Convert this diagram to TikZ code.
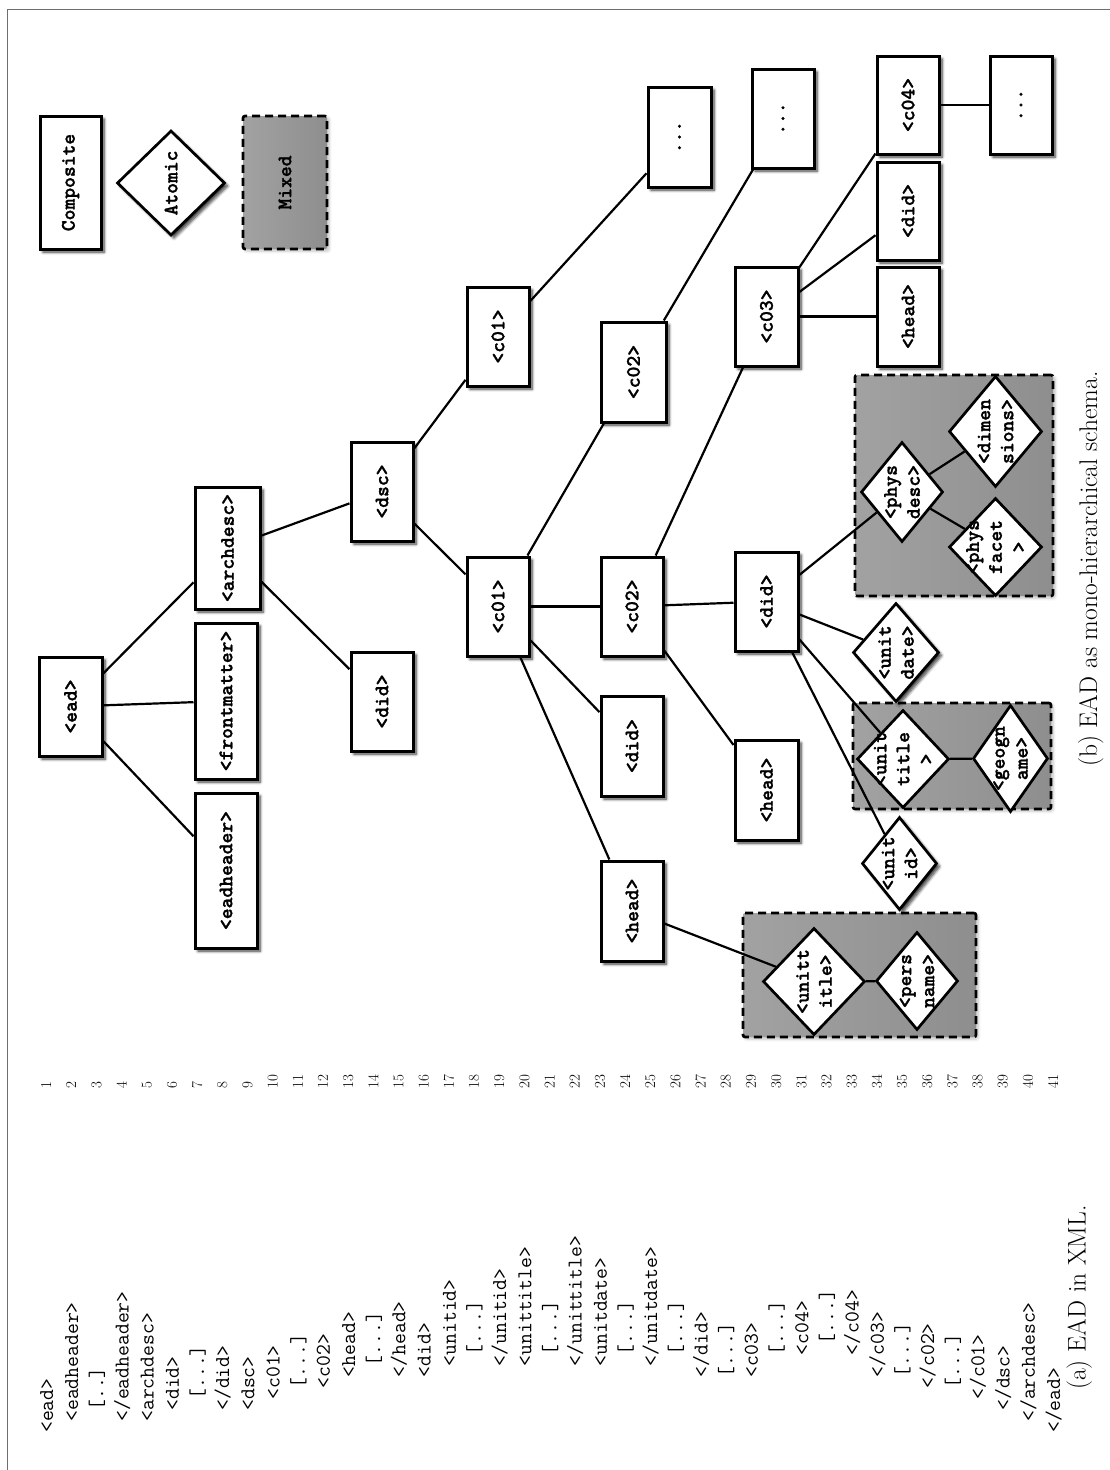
\documentclass[tikz,border=0pt]{standalone}
\usepackage{fontspec}
\usetikzlibrary{shapes.geometric,shadows.blur}
\newfontfamily\bxfam{lmmonolt10-bold.otf}[FakeBold=1.3]
\definecolor{mixL}{RGB}{162,162,162}
\definecolor{mixR}{RGB}{142,142,142}
\definecolor{framec}{RGB}{110,110,110}
\newcommand\bxf{\fontsize{20.6}{23}\selectfont\bxfam}
\newcommand\cdf{\fontsize{21.1}{21.1}\selectfont\ttfamily}
\newcommand\nmf{\fontsize{15}{15}\selectfont}
\newcommand\cpf{\fontsize{25.5}{25.5}\selectfont}
\tikzset{
  sh/.style={blur shadow={shadow xshift=3pt,shadow yshift=-3pt,shadow blur radius=3pt,shadow blur steps=6,shadow opacity=80}},
  nosh/.style={},
  shlight/.style={blur shadow={shadow xshift=2pt,shadow yshift=-2pt,shadow blur radius=3pt,shadow blur steps=5,shadow opacity=25}},
  comp/.style={draw,line width=3pt,fill=white,rectangle,inner sep=0pt,font=\bxf,sh},
  atom/.style={draw,line width=2.7pt,fill=white,diamond,inner sep=0pt},
  mixed/.style={draw,line width=2.6pt,dash pattern=on 8pt off 5pt,left color=mixL,right color=mixR,rounded corners=2pt,inner sep=0pt,font=\bxf,shlight},
  lbl/.style={rotate=90,align=center,font=\bxf,inner sep=0pt},
  conn/.style={line width=2.2pt},
  code/.style={rotate=90,anchor=base west,inner sep=0pt,font=\cdf},
  num/.style={rotate=90,anchor=base west,inner sep=0pt,font=\nmf},
  capt/.style={rotate=90,anchor=base west,inner sep=0pt,font=\cpf},
  frame/.style={draw=framec,line width=1pt}
}
\newcommand\rnode[5]{\node[comp,minimum width=#4pt,minimum height=#5pt] (#1) at (#2) {\rotatebox{90}{#3}};}
\newcommand\dnode[6]{\node[atom,#6,minimum width=#4pt,minimum height=#5pt] (#1) at (#2) {};
  \node[lbl] (#1-t) at (#1) {#3};}
\newcommand\codeln[3]{\node[code] (cl#1) at ({53+25.175*(#1-1)},{1433-11.1*#2}) {#3};
  \node[num] (ln#1) at ({51+25.175*(#1-1)},1089) {#1};}
\begin{document}
\begin{tikzpicture}[x=1pt,y=-1pt]
\useasboundingbox (0,0) rectangle (1110,1470);
\draw[frame] (1110,9) -- (7,9) -- (7,1470);

% legend
\rnode{comp}{70.5,182.5}{Composite}{61}{133}
\dnode{atom}{171,183}{Atomic}{108}{105}{sh}
\node[mixed,minimum width=84pt,minimum height=133pt] (mixd) at (285,182.5) {\rotatebox{90}{Mixed}};

% mixed groups (drawn first, behind everything)
\node[mixed,minimum width=198pt,minimum height=221pt] (mixA) at (954,485.5) {};
\node[mixed,minimum width=198pt,minimum height=106pt] (mixB) at (952,756) {};
\node[mixed,minimum width=233pt,minimum height=124pt] (mixC) at (859.5,975) {};

% composite nodes
\rnode{ead}{70.5,706.5}{<ead>}{63}{99}
\rnode{eadheader}{226,870.5}{<eadheader>}{62}{155}
\rnode{frontmatter}{226,701}{<frontmatter>}{62}{156}
\rnode{archdesc}{227.5,548}{<archdesc>}{65}{122}
\rnode{dsc}{382,491.5}{<dsc>}{62}{99}
\rnode{didA}{382,701.5}{<did>}{62}{99}
\rnode{cOneA}{498,606.5}{<c01>}{62}{99}
\rnode{cOneB}{498,336.5}{<c01>}{62}{99}
\rnode{dotsA}{679.5,137}{...}{63}{100}
\rnode{cTwoA}{632,606.5}{<c02>}{62}{99}
\rnode{cTwoB}{633.5,372}{<c02>}{65}{100}
\rnode{didB}{632,746}{<did>}{62}{100}
\rnode{headA}{632,911}{<head>}{62}{100}
\rnode{headB}{766.5,790}{<head>}{63}{100}
\rnode{didC}{766.5,601.5}{<did>}{63}{99}
\rnode{cThree}{766.5,316.5}{<c03>}{63}{99}
\rnode{dotsB}{783,118.5}{...}{62}{99}
\rnode{cFour}{908,105}{<c04>}{62}{98}
\rnode{didD}{908,211}{<did>}{62}{98}
\rnode{headC}{908,316.5}{<head>}{62}{99}
\rnode{dotsC}{1021,105}{...}{62}{98}

% atomic nodes
\dnode{physdesc}{902,492}{<phys\\desc>}{82}{100}{nosh}
\dnode{dimens}{995.5,431.5}{<dimen\\sions>}{93}{111}{nosh}
\dnode{physfacet}{995.5,547}{<phys\\facet\\>}{93}{98}{nosh}
\dnode{unitdate}{896,652.5}{<unit\\date>}{86}{99}{sh}
\dnode{unittitleA}{903,759}{<unit\\title\\>}{92}{98}{nosh}
\dnode{geogname}{1010.5,758.5}{<geogn\\ame>}{75}{107}{nosh}
\dnode{unitid}{899.5,863.5}{<unit\\id>}{75}{93}{sh}
\dnode{unittitleB}{814,981.5}{<unitt\\itle>}{102}{107}{nosh}
\dnode{persname}{917,981}{<pers\\name>}{82}{98}{nosh}

% connectors
\draw[conn] (ead) -- (eadheader);
\draw[conn] (ead) -- (frontmatter);
\draw[conn] (ead) -- (archdesc);
\draw[conn] (archdesc) -- (dsc);
\draw[conn] (archdesc) -- (didA);
\draw[conn] (dsc) -- (cOneB);
\draw[conn] (dsc) -- (cOneA);
\draw[conn] (cOneB) -- (dotsA);
\draw[conn] (cOneA) -- (cTwoB);
\draw[conn] (cOneA) -- (cTwoA);
\draw[conn] (cOneA) -- (didB);
\draw[conn] (cOneA) -- (headA);
\draw[conn] (cTwoB) -- (dotsB);
\draw[conn] (cTwoA) -- (cThree);
\draw[conn] (cTwoA) -- (didC);
\draw[conn] (cTwoA) -- (headB);
\draw[conn] (cThree) -- (cFour);
\draw[conn] (cThree) -- (didD);
\draw[conn] (cThree) -- (headC);
\draw[conn] (cFour) -- (dotsC);
\draw[conn] (didC) -- (physdesc);
\draw[conn] (didC) -- (unitdate);
\draw[conn] (didC) -- (unittitleA);
\draw[conn] (didC) -- (unitid);
\draw[conn] (physdesc) -- (dimens);
\draw[conn] (physdesc) -- (physfacet);
\draw[conn] (unittitleA) -- (geogname);
\draw[conn] (headA) -- (unittitleB);
\draw[conn] (unittitleB) -- (persname);

% code listing
\codeln{1}{0}{<ead>}
\codeln{2}{1}{<eadheader>}
\codeln{3}{2}{[..]}
\codeln{4}{1}{</eadheader>}
\codeln{5}{1}{<archdesc>}
\codeln{6}{2}{<did>}
\codeln{7}{3}{[...]}
\codeln{8}{2}{</did>}
\codeln{9}{2}{<dsc>}
\codeln{10}{3}{<c01>}
\codeln{11}{4}{[...]}
\codeln{12}{4}{<c02>}
\codeln{13}{5}{<head>}
\codeln{14}{6}{[...]}
\codeln{15}{5}{</head>}
\codeln{16}{5}{<did>}
\codeln{17}{6}{<unitid>}
\codeln{18}{7}{[...]}
\codeln{19}{6}{</unitid>}
\codeln{20}{6}{<unittitle>}
\codeln{21}{7}{[...]}
\codeln{22}{6}{</unittitle>}
\codeln{23}{6}{<unitdate>}
\codeln{24}{7}{[...]}
\codeln{25}{6}{</unitdate>}
\codeln{26}{7}{[...]}
\codeln{27}{5}{</did>}
\codeln{28}{5}{[...]}
\codeln{29}{5}{<c03>}
\codeln{30}{7}{[...]}
\codeln{31}{7}{<c04>}
\codeln{32}{8}{[...]}
\codeln{33}{7}{</c04>}
\codeln{34}{5}{</c03>}
\codeln{35}{5}{[...]}
\codeln{36}{4}{</c02>}
\codeln{37}{4}{[...]}
\codeln{38}{3}{</c01>}
\codeln{39}{2}{</dsc>}
\codeln{40}{1}{</archdesc>}
\codeln{41}{0}{</ead>}

% captions
\node[capt] (captA) at (1085.5,1390) {(a) EAD in XML.};
\node[capt] (captB) at (1097,767) {(b) EAD as mono-hierarchical schema.};
\end{tikzpicture}
\end{document}
